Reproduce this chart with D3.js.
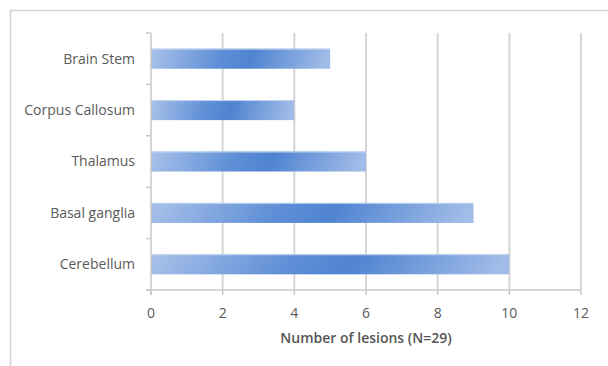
<!DOCTYPE html>
<html><head><meta charset="utf-8">
<script src="https://cdn.jsdelivr.net/npm/d3@7"></script>
<style>
html,body{margin:0;padding:0;background:#fff;}
svg{display:block;}
text{font-family:"Open Sans","Liberation Sans",sans-serif;}
</style></head>
<body>
<script>
const categories = ["Brain Stem","Corpus Callosum","Thalamus","Basal ganglia","Cerebellum"];
const values = [5,4,6,9,10];
const xTicks = [0,2,4,6,8,10,12];
const xTitle = "Number of lesions (N=29)";

(function(){
const W=608,H=366;
const svg=d3.select("body").append("svg").attr("width",W).attr("height",H);
const defs=svg.append("defs");
const g=defs.append("linearGradient").attr("id","barGrad").attr("x1","0").attr("y1","0").attr("x2","1").attr("y2","0.04");
g.append("stop").attr("offset","0%").attr("stop-color","#a9c2ea");
g.append("stop").attr("offset","40%").attr("stop-color","#5f8fd6");
g.append("stop").attr("offset","58%").attr("stop-color","#4f84d1");
g.append("stop").attr("offset","100%").attr("stop-color","#a1bce8");

// outer frame
svg.append("path").attr("d",`M10.5,${H} V10.5 H${W}`).attr("fill","none").attr("stroke","#d4d4d4").attr("stroke-width",1.5);

const pL=151,pR=581,pT=33,pB=290;
const x=d3.scaleLinear().domain([0,12]).range([pL,pR]);
const y=d3.scaleBand().domain(categories).range([pT,pB]).paddingInner(0.61).paddingOuter(0.305);
const yb=d3.scaleBand().domain(categories).range([pT,pB]);

// gridlines
svg.append("g").selectAll("line").data(xTicks.filter(d=>d>0)).join("line")
  .attr("x1",d=>x(d)).attr("x2",d=>x(d)).attr("y1",pT).attr("y2",pB)
  .attr("stroke","#d6d6d6").attr("stroke-width",2);

// bars
svg.append("g").selectAll("rect").data(categories).join("rect")
  .attr("x",x(0)).attr("y",d=>y(d)).attr("height",y.bandwidth())
  .attr("width",(d,i)=>x(values[i])-x(0))
  .attr("fill","url(#barGrad)");
svg.append("g").selectAll("line").data(categories).join("line")
  .attr("x1",x(0)).attr("y1",d=>y(d)+0.5).attr("y2",d=>y(d)+0.5)
  .attr("x2",(d,i)=>x(values[i]))
  .attr("stroke","#c3d4f0").attr("stroke-width",1);

// left axis
const ya=svg.append("g");
ya.append("line").attr("x1",pL).attr("x2",pL).attr("y1",pT).attr("y2",pB+5).attr("stroke","#c8c8c8").attr("stroke-width",1.5);
const bounds=categories.map(c=>yb(c)).concat([pB]);
ya.selectAll("line.tk").data(bounds).join("line").attr("class","tk")
  .attr("x1",pL-5).attr("x2",pL).attr("y1",d=>d).attr("y2",d=>d).attr("stroke","#c8c8c8").attr("stroke-width",1.5);
ya.selectAll("text").data(categories).join("text")
  .attr("x",pL-16).attr("y",d=>yb(d)+yb.bandwidth()/2).attr("dy","0.35em")
  .attr("text-anchor","end").attr("font-size",14).attr("fill","#5a5a5a").text(d=>d);

// bottom axis
const xa=svg.append("g");
xa.append("line").attr("x1",pL-5).attr("x2",pR).attr("y1",pB).attr("y2",pB).attr("stroke","#c8c8c8").attr("stroke-width",1.5);
xa.selectAll("line.tk").data(xTicks).join("line").attr("class","tk")
  .attr("x1",d=>x(d)).attr("x2",d=>x(d)).attr("y1",pB).attr("y2",pB+5).attr("stroke","#c8c8c8").attr("stroke-width",1.5);
xa.selectAll("text").data(xTicks).join("text")
  .attr("x",d=>x(d)).attr("y",313).attr("dy","0.35em").attr("text-anchor","middle")
  .attr("font-size",14).attr("fill","#5a5a5a").text(d=>d);

svg.append("text").attr("x",366).attr("y",338).attr("dy","0.35em").attr("text-anchor","middle")
  .attr("font-size",14).attr("font-weight",600).attr("fill","#555555").text(xTitle);
})();
</script>
</body></html>
